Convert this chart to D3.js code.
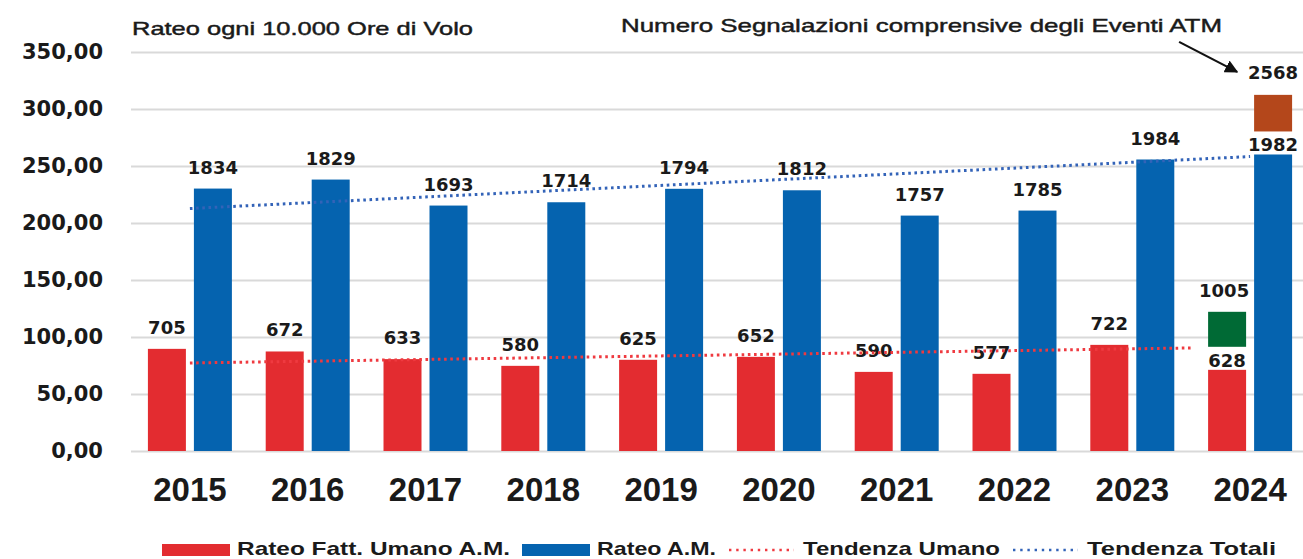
<!DOCTYPE html>
<html>
<head>
<meta charset="utf-8">
<script src="https://cdn.jsdelivr.net/npm/d3@7"></script>
<style>
  body { margin: 0; background: #fff; }
  svg { display: block; }
</style>
</head>
<body>
<div id="chart"></div>
<script>
const years = ['2015', '2016', '2017', '2018', '2019', '2020', '2021', '2022', '2023', '2024'];
// rateo ogni 10.000 ore di volo
const rateUmano = [89.6, 87.3, 80.6, 74.7, 80.0, 82.6, 69.4, 67.7, 93.1, 71.2];
const rateTotali = [230.2, 238.1, 215.3, 218.2, 230.0, 228.7, 206.5, 210.9, 255.7, 260.1];
// numero segnalazioni (etichette)
const countUmano = [705, 672, 633, 580, 625, 652, 590, 577, 722, 628];
const countTotali = [1834, 1829, 1693, 1714, 1794, 1812, 1757, 1785, 1984, 1982];
// 2024 comprensivo degli eventi ATM
const atmYear = '2024';
const atmUmano = [91.4, 122.1];
const atmUmanoCount = 1005;
const atmTotali = [280.3, 312.4];
const atmTotaliCount = 2568;
// tendenze: [indice anno, valore]
const trendUmano = [[0, 77.2], [8.5, 90.4]];
const trendTotali = [[0, 212.7], [9, 258.3]];
const yTicks = [0, 50, 100, 150, 200, 250, 300, 350];
const legendLabels = ['Rateo Fatt. Umano A.M.', 'Rateo A.M.', 'Tendenza Umano', 'Tendenza Totali'];

const width = 1303;
const height = 559;
const left = 131;
const baseY = 451;
const topY = 52;

const red = '#e32c30';
const blue = '#0563af';
const redDot = '#ef3a40';
const blueDot = '#3363b8';
const green = '#006a35';
const orange = '#b4471b';

const svg = d3.select('#chart').append('svg')
  .attr('width', width)
  .attr('height', height);

const x0 = d3.scaleBand()
  .domain(years)
  .range([left, 1309])
  .paddingInner(0.287)
  .paddingOuter(0.1435);
const x1 = d3.scaleBand()
  .domain(['umano', 'totali'])
  .range([0, x0.bandwidth()])
  .paddingInner(0.174);
const y = d3.scaleLinear()
  .domain([0, 350])
  .range([baseY, topY]);
const xIdx = d3.scaleLinear()
  .domain([0, years.length - 1])
  .range([x0(years[0]) + x0.bandwidth() / 2, x0(years[years.length - 1]) + x0.bandwidth() / 2]);

const itFormat = d3.formatLocale({ decimal: ',', thousands: '.', grouping: [3], currency: ['€', ''] }).format('.2f');

// grid + y axis
const yAxis = d3.axisLeft(y)
  .tickValues(yTicks)
  .tickSize(-(width - left))
  .tickPadding(28)
  .tickFormat(itFormat);
svg.append('g')
  .attr('transform', `translate(${left},0)`)
  .call(yAxis)
  .call(g => g.select('.domain').remove())
  .call(g => g.selectAll('.tick line').attr('stroke', '#d9d9d9').attr('stroke-width', 2))
  .call(g => g.selectAll('.tick text')
    .attr('fill', '#1a1a1a')
    .style('font-family', '"DejaVu Sans", Verdana, sans-serif')
    .style('font-weight', 'bold')
    .style('font-size', '21px'));

// x axis
svg.append('g')
  .attr('transform', `translate(0,${baseY})`)
  .call(d3.axisBottom(x0).tickSize(0).tickPadding(27))
  .call(g => g.select('.domain').remove())
  .call(g => g.selectAll('.tick text')
    .attr('fill', '#1a1a1a')
    .style('font-family', '"Liberation Sans", Arial, sans-serif')
    .style('font-weight', 'bold')
    .style('font-size', '33px'));

const rows = years.map((yr, i) => ({
  year: yr,
  umano: rateUmano[i],
  totali: rateTotali[i],
  cu: countUmano[i],
  ct: countTotali[i]
}));

const groups = svg.append('g')
  .selectAll('g')
  .data(rows)
  .join('g')
  .attr('transform', d => `translate(${x0(d.year)},0)`);

groups.append('rect')
  .attr('x', x1('umano'))
  .attr('width', x1.bandwidth())
  .attr('y', d => y(d.umano))
  .attr('height', d => y(0) - y(d.umano))
  .attr('fill', red);
groups.append('rect')
  .attr('x', x1('totali'))
  .attr('width', x1.bandwidth())
  .attr('y', d => y(d.totali))
  .attr('height', d => y(0) - y(d.totali))
  .attr('fill', blue);

// ATM boxes 2024
const atm = svg.append('g').attr('transform', `translate(${x0(atmYear)},0)`);
atm.append('rect')
  .attr('x', x1('umano'))
  .attr('width', x1.bandwidth())
  .attr('y', y(atmUmano[1]))
  .attr('height', y(atmUmano[0]) - y(atmUmano[1]))
  .attr('fill', green);
atm.append('rect')
  .attr('x', x1('totali'))
  .attr('width', x1.bandwidth())
  .attr('y', y(atmTotali[1]))
  .attr('height', y(atmTotali[0]) - y(atmTotali[1]))
  .attr('fill', orange);

// trend lines
const line = d3.line().x(d => xIdx(d[0])).y(d => y(d[1]));
svg.append('path')
  .datum(trendUmano)
  .attr('d', line)
  .attr('fill', 'none')
  .attr('stroke', redDot)
  .attr('stroke-width', 3)
  .attr('stroke-dasharray', '2.6 3.6');
svg.append('path')
  .datum(trendTotali)
  .attr('d', line)
  .attr('fill', 'none')
  .attr('stroke', blueDot)
  .attr('stroke-width', 3)
  .attr('stroke-dasharray', '2.6 3.6');

// value labels
const labelStyle = sel => sel
  .attr('text-anchor', 'middle')
  .attr('fill', '#1a1a1a')
  .style('font-family', '"DejaVu Sans", Verdana, sans-serif')
  .style('font-weight', 'bold')
  .style('font-size', '18px');
const gap = d => d.year === atmYear ? 3 : 15;
groups.append('text')
  .attr('x', x1('umano') + x1.bandwidth() / 2)
  .attr('y', d => y(d.umano) - gap(d))
  .text(d => d.cu)
  .call(labelStyle);
groups.append('text')
  .attr('x', x1('totali') + x1.bandwidth() / 2)
  .attr('y', d => y(d.totali) - gap(d))
  .text(d => d.ct)
  .call(labelStyle);
atm.append('text')
  .attr('x', x1('umano') + x1.bandwidth() / 2 - 3)
  .attr('y', y(atmUmano[1]) - 15)
  .text(atmUmanoCount)
  .call(labelStyle);
atm.append('text')
  .attr('x', x1('totali') + x1.bandwidth() / 2)
  .attr('y', y(atmTotali[1]) - 16)
  .text(atmTotaliCount)
  .call(labelStyle);

// titles
const titleStyle = sel => sel
  .attr('lengthAdjust', 'spacingAndGlyphs')
  .attr('fill', '#1a1a1a')
  .attr('stroke', '#1a1a1a')
  .attr('stroke-width', 0.45)
  .style('font-family', '"Liberation Sans", Arial, sans-serif')
  .style('font-size', '19px');
svg.append('text')
  .attr('x', left + 1)
  .attr('y', 35)
  .attr('textLength', 341)
  .call(titleStyle)
  .text('Rateo ogni 10.000 Ore di Volo');
svg.append('text')
  .attr('x', 621)
  .attr('y', 32)
  .attr('textLength', 601)
  .call(titleStyle)
  .text('Numero Segnalazioni comprensive degli Eventi ATM');

// arrow to the 2568 box
svg.append('defs').append('marker')
  .attr('id', 'head')
  .attr('viewBox', '0 0 10 10')
  .attr('refX', 9)
  .attr('refY', 5)
  .attr('markerWidth', 6)
  .attr('markerHeight', 6)
  .attr('orient', 'auto')
  .append('path')
  .attr('d', 'M0,0L10,5L0,10Z')
  .attr('fill', '#111');
const boxX = x0(atmYear) + x1('totali');
const boxY = y(atmTotali[1]);
svg.append('line')
  .attr('x1', boxX - 75)
  .attr('y1', boxY - 53)
  .attr('x2', boxX - 17)
  .attr('y2', boxY - 23)
  .attr('stroke', '#111')
  .attr('stroke-width', 2.2)
  .attr('marker-end', 'url(#head)');

// legend
const legend = svg.append('g').attr('transform', 'translate(162,550)');
const kinds = ['rect', 'rect', 'dots', 'dots'];
const kindColors = [red, blue, redDot, blueDot];
const textWidths = [273, 119, 197, 189];
let cx = 0;
legendLabels.forEach((lab, i) => {
  if (kinds[i] === 'rect') {
    legend.append('rect')
      .attr('x', cx).attr('y', -6)
      .attr('width', 68).attr('height', 12)
      .attr('fill', kindColors[i]);
  } else {
    legend.append('line')
      .attr('x1', cx + 1).attr('x2', cx + 66)
      .attr('y1', 0).attr('y2', 0)
      .attr('stroke', kindColors[i])
      .attr('stroke-width', 2.6)
      .attr('stroke-dasharray', '2.4 4.8');
  }
  cx += 75;
  legend.append('text')
    .attr('x', cx)
    .attr('y', 5)
    .attr('textLength', textWidths[i])
    .attr('lengthAdjust', 'spacingAndGlyphs')
    .attr('fill', '#1a1a1a')
    .style('font-family', '"Liberation Sans", Arial, sans-serif')
    .style('font-weight', 'bold')
    .style('font-size', '19px')
    .text(lab);
  cx += textWidths[i] + 12;
});
</script>
</body>
</html>
